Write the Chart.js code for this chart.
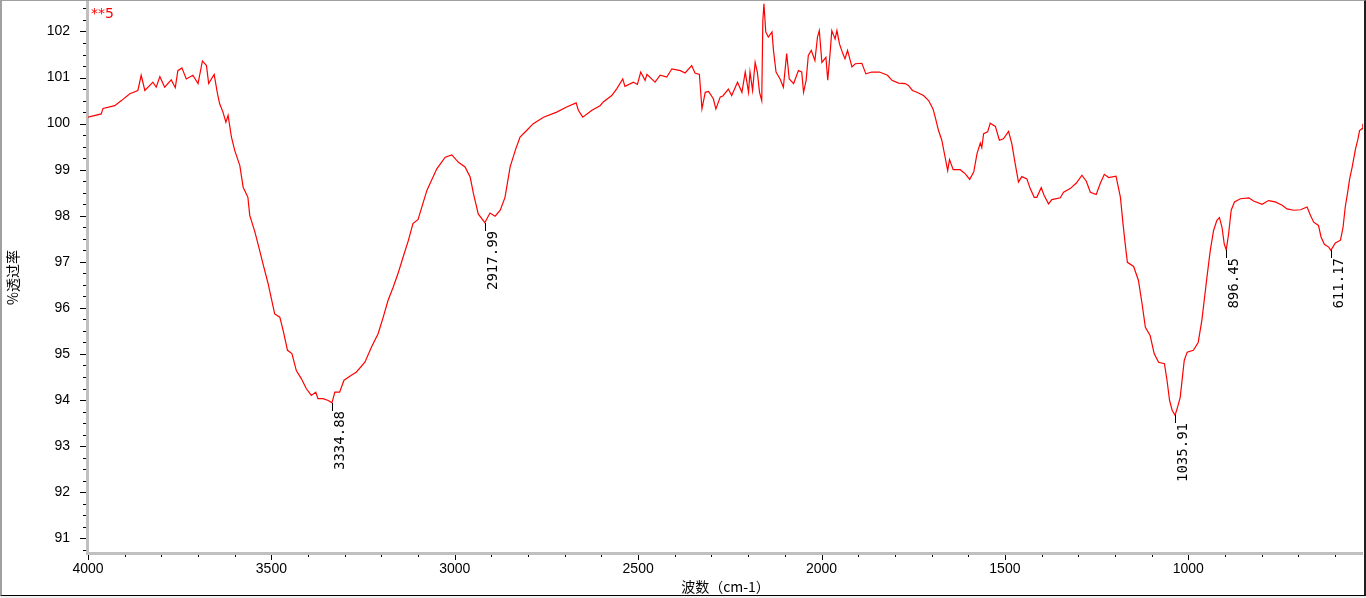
<!DOCTYPE html>
<html>
<head>
<meta charset="utf-8">
<script src="https://cdn.jsdelivr.net/npm/chart.js@4.4.1/dist/chart.umd.min.js"></script>
<style>
  html, body { margin: 0; padding: 0; background: #fff; }
  #wrap { position: relative; width: 1366px; height: 598px; overflow: hidden; }
  #frame {
    position: absolute; left: 0; top: 0; width: 1366px; height: 596px; box-sizing: border-box;
    border-left: 2px solid #a0a0a0; border-top: 1px solid #a0a0a0;
    border-right: 2px solid #202020; border-bottom: 1px solid #000; pointer-events: none;
  }
  #strip { position: absolute; left: 0; top: 596px; width: 1366px; height: 2px; background: #f0f0f0; }
</style>
</head>
<body>
<div id="wrap">
  <canvas id="ftir" width="1366" height="598"></canvas>
  <div id="frame"></div>
  <div id="strip"></div>
</div>
<script>
// Spectre IR (transmittance en fonction du nombre d'onde).

const sampleName = '**5';

const waveNumbers = [
  4000, 3964, 3959, 3927, 3909, 3886, 3864, 3855, 3845, 3823, 3814, 3804, 3791, 3773, 3762, 3755,
  3744, 3732, 3714, 3700, 3688, 3677, 3671, 3656, 3647, 3641, 3632, 3624, 3618, 3609, 3600, 3586,
  3577, 3564, 3559, 3545, 3532, 3523, 3509, 3500, 3491, 3477, 3468, 3456, 3444, 3432, 3418, 3405,
  3391, 3379, 3373, 3359, 3345, 3334.88, 3327, 3314, 3302, 3282, 3268, 3245, 3227, 3209, 3195, 3182,
  3168, 3155, 3141, 3127, 3114, 3100, 3076, 3049, 3026, 3008, 2990, 2972, 2958, 2949, 2936, 2917.99,
  2904, 2890, 2876, 2863, 2849, 2835, 2822, 2804, 2786, 2758, 2722, 2695, 2669, 2663, 2651, 2626,
  2604, 2595, 2572, 2558, 2542, 2536, 2513, 2502, 2493, 2481, 2476, 2454, 2440, 2422, 2408, 2385,
  2372, 2354, 2345, 2333, 2326, 2317, 2308, 2295, 2288, 2276, 2269, 2254, 2245, 2229, 2217, 2208,
  2199, 2195, 2188, 2181, 2175, 2169, 2163, 2160, 2157, 2152, 2145, 2135, 2131, 2124, 2113, 2104,
  2095, 2088, 2076, 2063, 2054, 2049, 2042, 2036, 2028, 2018, 2011, 2006, 1999, 1988, 1983, 1976,
  1972, 1963, 1958, 1951, 1942, 1936, 1929, 1917, 1908, 1890, 1879, 1863, 1842, 1820, 1808, 1790,
  1772, 1763, 1752, 1740, 1722, 1708, 1696, 1690, 1681, 1672, 1663, 1656, 1651, 1641, 1622, 1608,
  1596, 1585, 1576, 1567, 1563, 1558, 1547, 1540, 1526, 1515, 1504, 1490, 1481, 1472, 1463, 1454,
  1440, 1431, 1420, 1413, 1401, 1393, 1381, 1372, 1349, 1340, 1322, 1305, 1290, 1278, 1267, 1251,
  1240, 1229, 1217, 1197, 1185, 1178, 1172, 1166, 1149, 1136, 1126, 1117, 1104, 1093, 1081, 1065,
  1058, 1051, 1044, 1035.91, 1029, 1022, 1011, 1003, 986, 973, 963, 949, 940, 931, 922, 915,
  908, 902, 896.45, 890, 883, 874, 858, 835, 822, 799, 781, 763, 744, 731, 713, 694,
  676, 667, 658, 645, 638, 629, 617, 611.17, 599, 585, 578, 572, 566, 560, 553, 544,
  538, 533, 526, 524
];

const transmittance = [
  100.14, 100.21, 100.33, 100.39, 100.50, 100.65, 100.72, 101.05, 100.72, 100.90, 100.79, 101.02, 100.79, 100.95, 100.78, 101.15,
  101.21, 100.97, 101.05, 100.87, 101.36, 101.26, 100.87, 101.07, 100.65, 100.43, 100.25, 100.03, 100.18, 99.71, 99.42, 99.09,
  98.62, 98.40, 98.01, 97.65, 97.25, 96.96, 96.53, 96.20, 95.87, 95.80, 95.51, 95.08, 95.01, 94.64, 94.46, 94.25,
  94.10, 94.17, 94.03, 94.03, 93.99, 93.94, 94.17, 94.17, 94.43, 94.54, 94.61, 94.82, 95.15, 95.44, 95.80, 96.16,
  96.45, 96.74, 97.10, 97.45, 97.83, 97.92, 98.55, 99.02, 99.27, 99.32, 99.16, 99.06, 98.84, 98.48, 98.04, 97.85,
  98.06, 97.99, 98.12, 98.40, 99.06, 99.42, 99.71, 99.85, 100.00, 100.14, 100.25, 100.36, 100.45, 100.29, 100.14, 100.29,
  100.39, 100.47, 100.61, 100.76, 100.97, 100.81, 100.90, 100.85, 101.12, 100.94, 101.07, 100.90, 101.05, 101.01, 101.19, 101.15,
  101.10, 101.26, 101.10, 101.07, 100.32, 100.68, 100.70, 100.54, 100.32, 100.58, 100.60, 100.75, 100.61, 100.90, 100.68, 101.12,
  100.68, 101.12, 100.72, 101.33, 101.12, 100.68, 100.50, 102.24, 102.60, 101.99, 101.88, 101.99, 101.59, 101.12, 100.97, 100.79,
  101.52, 100.97, 100.87, 101.15, 101.12, 100.68, 100.94, 101.48, 101.59, 101.37, 101.88, 102.02, 101.33, 101.44, 100.94, 101.59,
  102.02, 101.84, 102.02, 101.73, 101.52, 101.41, 101.59, 101.23, 101.30, 101.31, 101.08, 101.12, 101.12, 101.05, 100.94, 100.88,
  100.87, 100.83, 100.72, 100.68, 100.61, 100.50, 100.32, 100.14, 99.85, 99.64, 99.27, 98.98, 99.22, 99.00, 99.00, 98.91,
  98.79, 98.95, 99.35, 99.58, 99.48, 99.78, 99.82, 100.01, 99.94, 99.64, 99.67, 99.83, 99.56, 99.13, 98.73, 98.85,
  98.80, 98.59, 98.40, 98.40, 98.61, 98.44, 98.26, 98.35, 98.39, 98.51, 98.59, 98.71, 98.88, 98.75, 98.51, 98.46,
  98.70, 98.90, 98.83, 98.86, 98.40, 97.83, 97.39, 96.99, 96.90, 96.60, 96.09, 95.58, 95.40, 95.01, 94.82, 94.79,
  94.43, 93.99, 93.78, 93.67, 93.85, 94.06, 94.86, 95.04, 95.08, 95.25, 95.73, 96.67, 97.25, 97.68, 97.90, 97.96,
  97.75, 97.39, 97.26, 97.61, 98.12, 98.30, 98.37, 98.39, 98.32, 98.25, 98.33, 98.30, 98.23, 98.15, 98.12, 98.13,
  98.19, 98.01, 97.86, 97.79, 97.54, 97.38, 97.32, 97.25, 97.41, 97.47, 97.75, 98.19, 98.48, 98.80, 99.06, 99.45,
  99.64, 99.85, 99.89, 100.00
];

// Pics annotés
const peakWaveNumbers = [3334.88, 2917.99, 1035.91, 896.45, 611.17];
const peakValues      = [93.94, 97.85, 93.67, 97.26, 97.25];
const peakLabels      = ['3334.88', '2917.99', '1035.91', '896.45', '611.17'];

// Graduations
const xTickValues = [4000, 3500, 3000, 2500, 2000, 1500, 1000];
const yTickValues = [91, 92, 93, 94, 95, 96, 97, 98, 99, 100, 101, 102];

const rouge = '#ff0000';
const axisGray = '#c0c0c0';

// --- Axes gris, petites graduations, annotations des pics ---
const spectrumDecor = {
  id: 'spectrumDecor',
  beforeDatasetsDraw(chart) {
    const { ctx, chartArea: a, scales: { x, y } } = chart;
    ctx.save();
    ctx.fillStyle = axisGray;
    ctx.fillRect(a.left - 2, 0, 3, a.bottom + 2);
    ctx.fillRect(a.left - 2, a.bottom - 1, a.right - a.left + 2, 3);

    ctx.fillStyle = '#000';
    for (let v = 90.75; v <= 102.6; v += 0.25) {
      const py = Math.round(y.getPixelForValue(v));
      const major = Number.isInteger(v);
      const len = major ? 6 : 3;
      ctx.fillRect(a.left - 2 - len, py, len, 1);
    }
    for (let v = 600; v <= 4000; v += 100) {
      const px = Math.round(x.getPixelForValue(v));
      const major = v % 500 === 0;
      ctx.fillRect(px, a.bottom + 2, 1, major ? 5 : 2);
    }
    ctx.restore();
  },
  afterDatasetsDraw(chart) {
    const { ctx, chartArea: a, scales: { x, y } } = chart;
    ctx.save();
    ctx.strokeStyle = '#000';
    ctx.fillStyle = '#000';
    ctx.lineWidth = 1;
    ctx.font = '14px "DejaVu Sans Mono"';
    peakWaveNumbers.forEach((wn, i) => {
      const px = Math.round(x.getPixelForValue(wn));
      const py = Math.round(y.getPixelForValue(peakValues[i]));
      ctx.beginPath();
      ctx.moveTo(px + 0.5, py);
      ctx.lineTo(px + 0.5, py + 8);
      ctx.stroke();
      ctx.save();
      ctx.translate(px + 1, py + 8);
      ctx.rotate(-Math.PI / 2);
      ctx.textAlign = 'right';
      ctx.textBaseline = 'top';
      ctx.fillText(peakLabels[i], 0, 0);
      ctx.restore();
    });

    ctx.fillStyle = rouge;
    ctx.font = '14px "DejaVu Sans"';
    ctx.textAlign = 'left';
    ctx.textBaseline = 'middle';
    ctx.fillText(sampleName, a.left + 3, a.top + 12);
    ctx.restore();
  },
};

// Supprime la marge automatique que Chart.js réserve pour les libellés extrêmes
const noEdgePadding = (scale) => {
  scale.paddingTop = 0;
  scale.paddingBottom = 0;
  scale.paddingLeft = 0;
  scale.paddingRight = 0;
};

const tickFont = { family: '"Liberation Sans", Arial, sans-serif', size: 14 };
const titleFont = { family: '"Noto Sans CJK SC", sans-serif', size: 14 };

new Chart(document.getElementById('ftir'), {
  type: 'line',
  data: {
    datasets: [{
      data: waveNumbers.map((wn, i) => ({ x: wn, y: transmittance[i] })),
      borderColor: rouge,
      borderWidth: 1.2,
      pointRadius: 0,
      tension: 0,
      fill: false,
    }],
  },
  options: {
    responsive: false,
    animation: false,
    devicePixelRatio: 1,
    layout: { padding: { left: 0, top: 2, right: 3, bottom: 0 } },
    plugins: { legend: { display: false }, tooltip: { enabled: false } },
    scales: {
      x: {
        type: 'linear',
        reverse: true,
        min: 523.6,
        max: 4000,
        grid: { display: false },
        border: { display: false },
        afterBuildTicks: (scale) => { scale.ticks = xTickValues.map((value) => ({ value })); },
        afterFit: (scale) => { scale.height = 45; noEdgePadding(scale); },
        ticks: { color: '#000', font: tickFont, padding: 0, maxRotation: 0, autoSkip: false, callback: (v) => String(v) },
        title: { display: true, text: '波数（cm-1）', color: '#000', font: titleFont, padding: { top: 0, bottom: 3 } },
      },
      y: {
        min: 90.68,
        max: 102.64,
        grid: { display: false },
        border: { display: false },
        afterBuildTicks: (scale) => { scale.ticks = yTickValues.map((value) => ({ value })); },
        afterFit: (scale) => { scale.width = 88; noEdgePadding(scale); },
        ticks: { color: '#000', font: tickFont, padding: 10, autoSkip: false, callback: (v) => String(v) },
        title: { display: true, text: '%透过率', color: '#000', font: titleFont, padding: { top: 4, bottom: 0 } },
      },
    },
  },
  plugins: [spectrumDecor],
});
</script>
</body>
</html>
